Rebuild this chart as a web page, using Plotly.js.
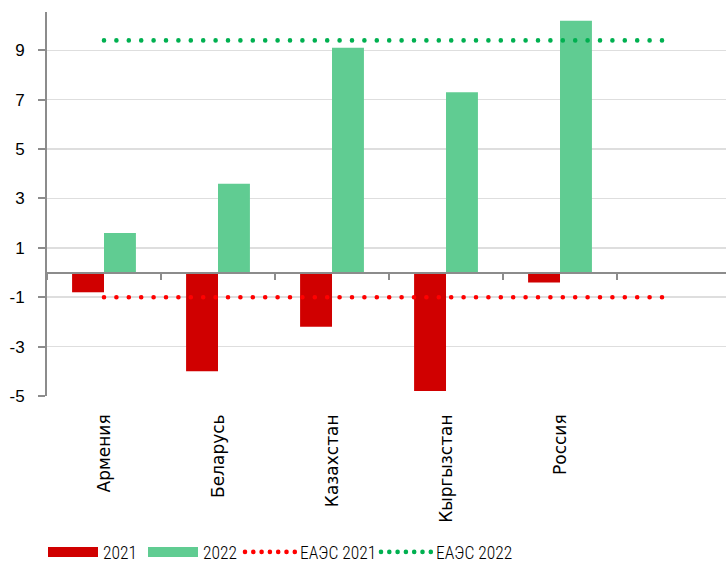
<!DOCTYPE html>
<html><head><meta charset="utf-8">
<script src="https://cdn.plot.ly/plotly-3.0.1.min.js"></script>
<style>html,body{margin:0;padding:0;background:#fff}#chart{width:726px;height:563px}</style>
</head><body><div id="chart"></div>
<script>
const categories = ["Армения","Беларусь","Казахстан","Кыргызстан","Россия"," "];
const countries = ["Армения","Беларусь","Казахстан","Кыргызстан","Россия"];
const values2021 = [-0.8, -4.0, -2.2, -4.8, -0.4];
const values2022 = [1.6, 3.6, 9.1, 7.3, 10.2];
const eaeu2021 = [-1.0, -1.0, -1.0, -1.0, -1.0, -1.0];
const eaeu2022 = [9.4, 9.4, 9.4, 9.4, 9.4, 9.4];
const yTicks = [-5, -3, -1, 1, 3, 5, 7, 9];
const seriesNames = ["2021", "2022", "ЕАЭС 2021", "ЕАЭС 2022"];

const RED = "#d00000", GREEN = "rgb(96,204,146)", DRED = "#ff0000", DGREEN = "#00b050";
const yRange = [-5, 10.55];
const zeroPos = (0 - yRange[0]) / (yRange[1] - yRange[0]);
const xRange = [-0.5, 5.456];
const LEGEND_FONT = "Roboto Condensed, Liberation Sans Narrow, sans-serif";

const traces = [
  {type:"bar", x:countries, y:values2021, marker:{color:RED}, showlegend:false, xaxis:"x", yaxis:"y"},
  {type:"bar", x:countries, y:values2022, marker:{color:GREEN}, showlegend:false, xaxis:"x", yaxis:"y"},
  {type:"scatter", mode:"lines", x:categories, y:eaeu2021, line:{color:DRED, width:4.6, dash:"0px,12.4px"}, showlegend:false, xaxis:"x2", yaxis:"y"},
  {type:"scatter", mode:"lines", x:categories, y:eaeu2022, line:{color:DGREEN, width:4.6, dash:"0px,12.4px"}, showlegend:false, xaxis:"x2", yaxis:"y"},
  {type:"scatter", mode:"lines", x:[null], y:[null], name:seriesNames[0], legend:"legend", line:{color:RED, width:12}, xaxis:"x", yaxis:"y"},
  {type:"scatter", mode:"lines", x:[null], y:[null], name:seriesNames[1], legend:"legend2", line:{color:GREEN, width:12}, xaxis:"x", yaxis:"y"},
  {type:"scatter", mode:"lines", x:[null], y:[null], name:seriesNames[2], legend:"legend3", line:{color:DRED, width:4.6, dash:"0px,8.3px"}, xaxis:"x", yaxis:"y"},
  {type:"scatter", mode:"lines", x:[null], y:[null], name:seriesNames[3], legend:"legend4", line:{color:DGREEN, width:4.6, dash:"0px,8.3px"}, xaxis:"x", yaxis:"y"}
];

function legendAt(px) {
  return {orientation:"h", xref:"container", yref:"container", x:px / 726, xanchor:"left",
    y:(563 - 552) / 563, yanchor:"middle",
    font:{family:LEGEND_FONT, size:17.5, color:"#000", weight:300}, itemwidth:50, borderwidth:0, bgcolor:"rgba(0,0,0,0)"};
}

const layout = {
  width:726, height:563,
  margin:{l:47, r:0, t:12, b:167},
  paper_bgcolor:"#fff", plot_bgcolor:"#fff",
  barmode:"group", bargap:0.44, bargroupgap:0,
  font:{family:"Liberation Sans, Arial, sans-serif", color:"#000"},
  xaxis:{type:"category", categoryorder:"array", categoryarray:categories, range:xRange, automargin:false,
    showline:false, showgrid:false, zeroline:false, ticks:"", tickangle:-90,
    ticklabelstandoff:14, tickfont:{family:"DejaVu Sans", size:17, color:"#000"}, fixedrange:true},
  xaxis2:{type:"category", categoryorder:"array", categoryarray:categories, range:xRange, automargin:false,
    overlaying:"x", anchor:"free", position:zeroPos, showticklabels:false,
    showline:true, linecolor:"#8c8c8c", linewidth:2, ticks:"outside", tickson:"boundaries",
    ticklen:6, tickwidth:2, tickcolor:"#8c8c8c", showgrid:false, zeroline:false, fixedrange:true},
  yaxis:{range:yRange, tickvals:yTicks, ticktext:yTicks.map(String), showline:true, linecolor:"#8c8c8c", linewidth:2, automargin:false,
    ticks:"outside", ticklen:7, tickwidth:2, tickcolor:"#8c8c8c", gridcolor:"#dedede", gridwidth:1.5,
    zeroline:false, ticklabelstandoff:10, tickfont:{family:"Liberation Sans", size:17, color:"#000"}, fixedrange:true},
  legend: legendAt(43),
  legend2: legendAt(143),
  legend3: legendAt(240),
  legend4: legendAt(376)
};

Plotly.newPlot("chart", traces, layout, {staticPlot:true}).then(function(){
  document.querySelectorAll("path.js-line").forEach(function(p){
    const d = p.style.strokeDasharray;
    if (d && d !== "none") p.style.strokeLinecap = "round";
  });
});
</script></body></html>
